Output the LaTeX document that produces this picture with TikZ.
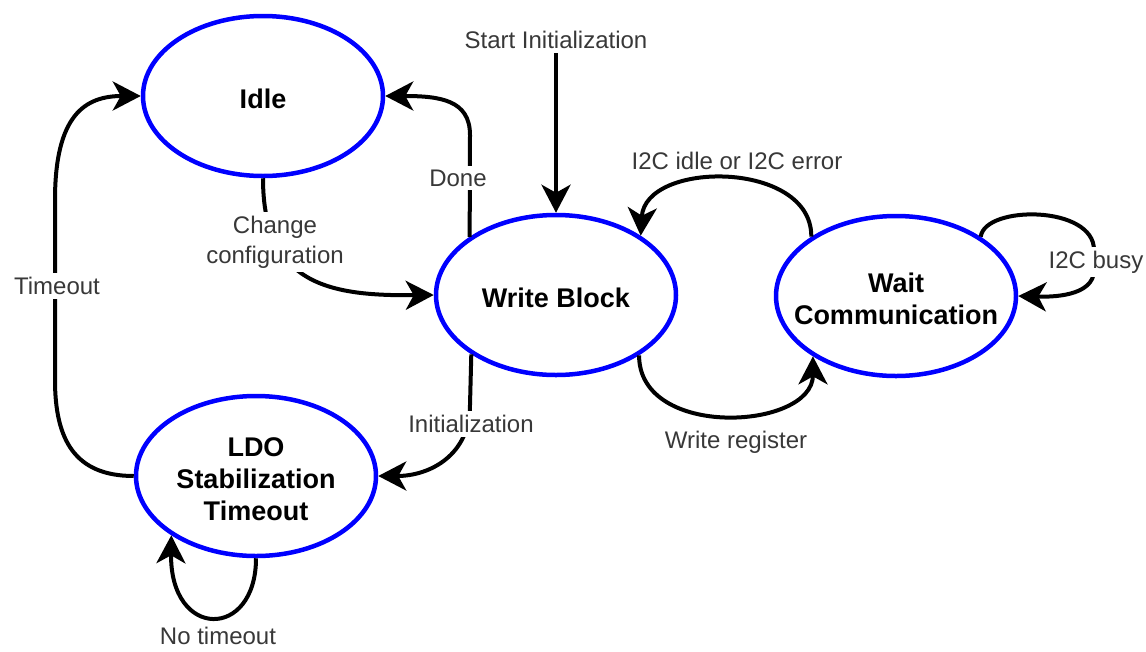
\documentclass[tikz,border=0pt]{standalone}
\usepackage{fontspec}
\setmainfont{Liberation Sans}
\usetikzlibrary{shapes.geometric,arrows.meta}
\newcommand{\ST}[0]{blue}
\newcommand{\TXT}[0]{black!78}

\begin{document}
\begin{tikzpicture}[x=1pt, y=-1pt,
  state/.style={ellipse, draw=\ST, line width=4.5pt, fill=white,
    minimum width=240pt, minimum height=160pt, inner sep=0pt},
  stxt/.style={font=\fontsize{27}{32}\selectfont\bfseries, align=center, yshift=-3pt},
  lbl/.style={font=\fontsize{24}{30}\selectfont, text=\TXT, align=center,
    inner xsep=1pt, inner ysep=4pt},
  bg/.style={fill=white},
  edge/.style={line width=4pt, -{Stealth[length=28pt, width=29pt, inset=8pt]}}]

  \useasboundingbox (0,0) rectangle (1146,651);

  % states
  \node[state, label={[stxt]center:Idle}] (idle) at (263,96) {};
  \node[state, label={[stxt]center:Write Block}] (wb) at (556,295) {};
  \node[state, label={[stxt]center:{Wait\\Communication}}] (wc) at (896,296) {};
  \node[state, label={[stxt]center:{LDO\\Stabilization\\Timeout}}] (ldo) at (256,476) {};

  % transitions
  \node[lbl] (start) at (556,40) {Start Initialization};
  \draw[edge] (start.south) -- (wb.north); %% start

  \draw[edge] (wb.146) -- (470,135) .. controls (470,100) and (440,96) .. (idle.east); %% done
  \draw[edge] (idle.south) .. controls (263,285) and (330,296) .. (wb.west); %% change
  \draw[edge] (ldo.west) .. controls (75,476) and (55,440) .. (55,380)
    -- (55,200) .. controls (55,115) and (85,96) .. (idle.west); %% timeout
  \draw[edge] (wb.215) -- (470,405) .. controls (470,455) and (430,476) .. (ldo.east); %% init
  \draw[edge] (ldo.south) .. controls (256,640) and (170,640) .. (ldo.215); %% no timeout
  \draw[edge] (wc.145) .. controls (812,160) and (645,160) .. (wb.35); %% idle / error
  \draw[edge] (wc.35) .. controls (985,205) and (1094,205) .. (1094,250)
    -- (1094,270) .. controls (1094,297) and (1050,297) .. (wc.east); %% busy
  \draw[edge] (wb.-36) .. controls (639,440) and (813,430) .. (wc.216); %% write

  % labels
  \node[lbl, bg] (lDone) at (458,178) {Done};
  \node[lbl, bg] (lChange) at (275,242) {Change\\configuration};
  \node[lbl, bg] (lTimeout) at (57,286) {Timeout};
  \node[lbl, bg] (lInit) at (471,424) {Initialization};
  \node[lbl] (lNo) at (218,636) {No timeout};
  \node[lbl] (lErr) at (737,161) {I2C idle or I2C error};
  \node[lbl, bg] (lBusy) at (1096,262) {I2C busy};
  \node[lbl] (lWrite) at (736,442) {Write register};

\end{tikzpicture}
\end{document}
